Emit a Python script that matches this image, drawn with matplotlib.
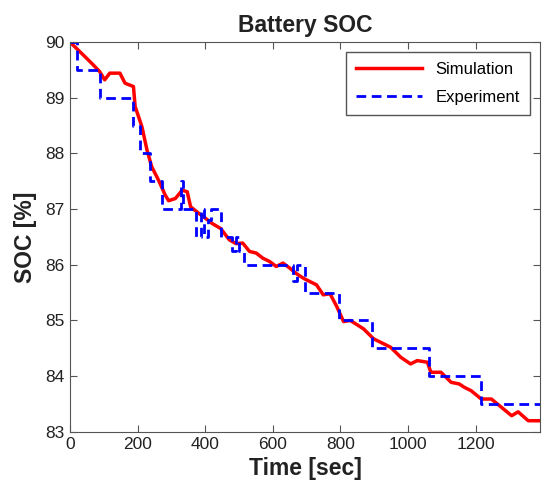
import numpy as np
import matplotlib
matplotlib.use("Agg")
import matplotlib.pyplot as plt

plt.rcParams['font.family'] = ['Liberation Sans', 'DejaVu Sans']

# simulated SOC (red line)
sim_t = [0, 39, 64, 88, 103, 118, 148, 163, 188, 193, 213, 228, 242, 262, 282,
         292, 312, 332, 347, 357, 382, 402, 421, 446, 471, 491, 511, 531, 551,
         570, 590, 610, 630, 650, 670, 690, 709, 729, 749, 769, 789, 809, 829,
         868, 898, 928, 948, 978, 1007, 1027, 1057, 1067, 1097, 1127, 1151,
         1166, 1186, 1216, 1246, 1276, 1306, 1325, 1355, 1390]
sim_soc = [90.0, 89.77, 89.62, 89.47, 89.32, 89.44, 89.44, 89.26, 89.2, 88.84,
           88.48, 88.06, 87.76, 87.52, 87.25, 87.15, 87.19, 87.34, 87.31, 87.04,
           86.92, 86.83, 86.74, 86.65, 86.45, 86.38, 86.39, 86.24, 86.21, 86.12,
           86.06, 85.97, 86.03, 85.94, 85.84, 85.76, 85.7, 85.64, 85.46, 85.48,
           85.25, 84.98, 85.0, 84.85, 84.67, 84.58, 84.52, 84.34, 84.22, 84.28,
           84.25, 84.07, 84.07, 83.89, 83.86, 83.8, 83.74, 83.59, 83.59, 83.44,
           83.29, 83.36, 83.2, 83.2]

# measured SOC (blue dashed step line)
exp_t = [0, 20, 90, 188, 206, 236, 272, 328, 335, 372, 388, 398, 408, 418,
         448, 478, 490, 500, 516, 660, 672, 695, 797, 893, 1061, 1216, 1390]
exp_soc = [90.0, 89.5, 89.0, 88.5, 88.0, 87.5, 87.0, 87.5, 87.0, 86.5, 87.0,
           86.5, 86.8, 87.0, 86.5, 86.25, 86.5, 86.25, 86.0, 85.7, 86.0, 85.5,
           85.0, 84.5, 84.0, 83.5, 83.5]

xticks = [0, 200, 400, 600, 800, 1000, 1200]
yticks = [83, 84, 85, 86, 87, 88, 89, 90]

fig = plt.figure(figsize=(5.5, 4.88), dpi=100)
ax = fig.add_axes([0.127, 0.115, 0.855, 0.799])

ax.plot(sim_t, sim_soc, color=(1, 0, 0), lw=2.5, label="Simulation")
ax.step(exp_t, exp_soc, where="post", color=(0, 0, 1), lw=2,
        ls=(0, (3.5, 2)), label="Experiment")

ax.set_xlim(0, 1390)
ax.set_ylim(83, 90)
ax.set_xticks(xticks)
ax.set_yticks(yticks)
ax.tick_params(direction="in", top=True, right=True, labelsize=12.5,
               length=5, color="#555555", labelcolor="#222222")
for s in ax.spines.values():
    s.set_color("#555555")

ax.set_title("Battery SOC", fontsize=16.5, fontweight="bold", color="#222222",
             pad=7)
ax.set_xlabel("Time [sec]", fontsize=16.5, fontweight="bold", color="#222222",
              labelpad=4)
ax.set_ylabel("SOC [%]", fontsize=16.5, fontweight="bold", color="#222222",
              labelpad=6)

leg = ax.legend(loc="upper right", fontsize=12, fancybox=False,
                handlelength=4.0, borderpad=0.6, labelspacing=0.8,
                framealpha=1, borderaxespad=0.6)
leg.get_frame().set_edgecolor("#555555")

fig.savefig("out.png", dpi=100)
